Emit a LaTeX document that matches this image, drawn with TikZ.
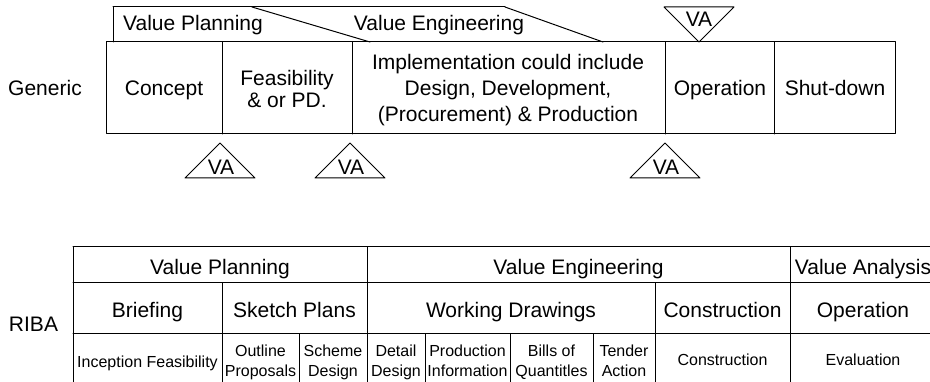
\documentclass[tikz,border=0pt]{standalone}
\usepackage{fontspec}
\setmainfont{Liberation Sans}
\usepackage{tkz-euclide}

\tikzset{
  txtbig/.style={font=\fontsize{21}{26}\selectfont,anchor=base,align=center,inner sep=0pt},
  txtsmall/.style={font=\fontsize{16}{20}\selectfont,anchor=base,align=center,inner sep=0pt},
  ruleline/.style={line width=1pt,color=black}
}

\begin{document}
\begin{tikzpicture}[x=1pt,y=-1pt]
  \useasboundingbox (0,0) rectangle (930,382);
  % generic life cycle
  \tkzDefPoints{113/7/A,252/7/B,505/7/C,113/42/D,370/42/E,603/42/F}
  \tkzDefPoints{106/42/G,895/42/H,895/134/I,106/134/J}
  \tkzDefPoints{222/42/K1,352/42/K2,665/42/K3,774/42/K4}
  \tkzDefPoints{222/134/L1,352/134/L2,665/134/L3,774/134/L4}
  \tkzDrawSegments[ruleline](D,A A,C B,E C,F)
  \tkzDrawPolygon[ruleline](G,H,I,J)
  \tkzDrawSegments[ruleline](K1,L1 K2,L2 K3,L3 K4,L4)

  % VA triangles
  \tkzDefPoints{664/7/T1,734/7/T2,699/42/T3}
  \tkzDefPoints{220/143/U1,185/178/U2,255/178/U3}
  \tkzDefPoints{350/143/V1,315/178/V2,385/178/V3}
  \tkzDefPoints{665/143/W1,630/178/W2,700/178/W3}
  \tkzDrawPolygon[ruleline](T1,T2,T3)
  \tkzDrawPolygon[ruleline](U1,U2,U3)
  \tkzDrawPolygon[ruleline](V1,V2,V3)
  \tkzDrawPolygon[ruleline](W1,W2,W3)

  \node[txtbig] (vplan) at (193,31) {Value Planning};
  \node[txtbig] (veng) at (439,31) {Value Engineering};
  \node[txtbig] (generic) at (45,96) {Generic};
  \node[txtbig] (concept) at (164,96) {Concept};
  \node[txtbig,font=\fontsize{21}{22}\selectfont] (feas) at (287,108) {Feasibility\\\& or PD.};
  \node[txtbig] (impl) at (508,122) {Implementation could include\\Design, Development,\\(Procurement) \& Production};
  \node[txtbig] (oper) at (720,96) {Operation};
  \node[txtbig] (shut) at (835,96) {Shut-down};
  \node[txtbig] (vatop) at (699,27) {VA};
  \node[txtbig] (vaone) at (221,175) {VA};
  \node[txtbig] (vatwo) at (351,175) {VA};
  \node[txtbig] (vathree) at (666,175) {VA};

  % RIBA plan of work
  \tkzDefPoints{73/247/a1,940/247/a2,73/283/b1,940/283/b2,73/334/c1,940/334/c2}
  \tkzDefPoints{73/382/a3,367/247/d1,367/382/d2,790/247/e1,790/382/e2}
  \tkzDefPoints{222/283/f1,222/382/f2,655/283/g1,655/382/g2}
  \tkzDefPoints{299/334/h1,299/382/h2,425/334/i1,425/382/i2}
  \tkzDefPoints{510/334/j1,510/382/j2,593/334/k1,593/382/k2}
  \tkzDrawSegments[ruleline](a1,a2 b1,b2 c1,c2 a1,a3 d1,d2 e1,e2)
  \tkzDrawSegments[ruleline](f1,f2 g1,g2 h1,h2 i1,i2 j1,j2 k1,k2)

  \node[txtbig] (riba) at (33.5,332) {RIBA};
  \node[txtbig] (rvplan) at (220,275) {Value Planning};
  \node[txtbig] (rveng) at (578.5,275) {Value Engineering};
  \node[txtbig] (rvana) at (863,275) {Value Analysis};
  \node[txtbig] (brief) at (147.5,318) {Briefing};
  \node[txtbig] (sketch) at (294.5,318) {Sketch Plans};
  \node[txtbig] (work) at (511,318) {Working Drawings};
  \node[txtbig] (constr) at (722.5,318) {Construction};
  \node[txtbig] (roper) at (863,318) {Operation};
  \node[txtsmall] (incep) at (147.5,367) {Inception Feasibility};
  \node[txtsmall] (outline) at (260.5,376.5) {Outline\\Proposals};
  \node[txtsmall] (scheme) at (333,376.5) {Scheme\\Design};
  \node[txtsmall] (detail) at (396,376.5) {Detail\\Design};
  \node[txtsmall] (prod) at (467.5,376.5) {Production\\Information};
  \node[txtsmall] (bills) at (551.5,376.5) {Bills of\\Quantitles};
  \node[txtsmall] (tender) at (624,376.5) {Tender\\Action};
  \node[txtsmall] (rconstr) at (722.5,366) {Construction};
  \node[txtsmall] (eval) at (863,366) {Evaluation};
\end{tikzpicture}
\end{document}
